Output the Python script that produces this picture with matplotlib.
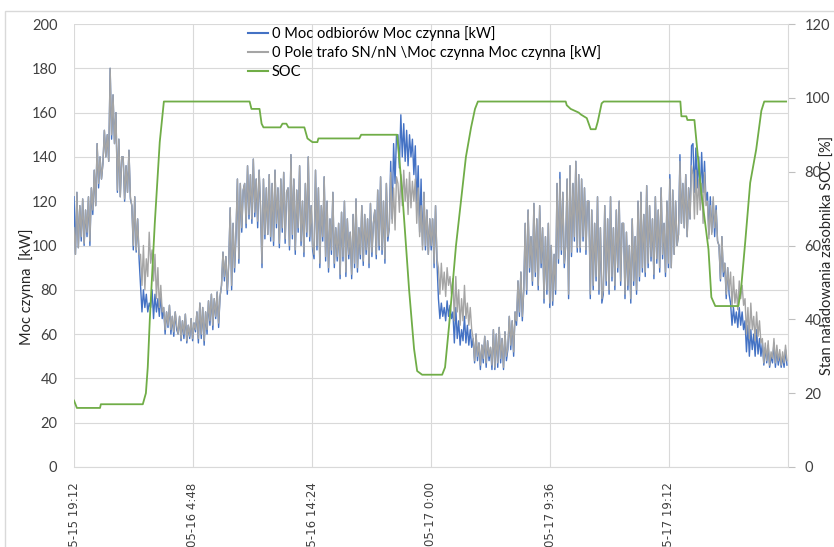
import matplotlib
matplotlib.use("Agg")
import matplotlib.pyplot as plt
import matplotlib.patches as mpatches
import pandas as pd

# ---------------- data ----------------
start_time = "2021-05-15 19:12"
sample_minutes = 7

trafo_kw = [  # 0 Pole trafo SN/nN \Moc czynna Moc czynna [kW]  (grey)
    108, 96, 124, 99,
    118, 104, 121, 101, 116, 106, 122, 102,
    126, 116, 134, 118,
    146, 128, 140, 130,
    137, 152, 140, 150, 138, 180,
    150, 168, 146, 160,
    125, 148, 122, 140,
    140, 121, 136, 124, 143, 122,
    118, 100, 122, 98, 112, 96,
    96, 82, 100, 80, 94, 86,
    106, 92,
    98, 84, 96, 76, 90, 72, 82, 70,
    72, 62, 70, 64, 73, 62, 68, 61, 70, 64,
    60, 68, 58, 66, 60, 69, 57, 64, 59, 67, 58, 65,
    62, 70,
    58, 74, 60, 72, 57, 70, 62, 75,
    66, 78, 64, 76, 68, 79, 65, 77,
    82, 97, 86, 95, 80, 92,
    117, 82, 110, 90,
    106, 130, 94, 128, 108, 125,
    128, 110, 136, 114, 132, 112, 139, 115, 130, 111, 134, 118,
    92, 130, 105, 126,
    105, 132, 104, 128, 102, 134, 110, 126, 101, 130, 108, 133, 103, 124,
    126, 100, 141, 105, 130, 98, 125, 108, 136, 102, 120, 97, 128, 106, 140, 104, 118, 100,
    96, 134,
    100, 126, 92, 118, 104, 131, 95, 120, 90, 112, 98, 124, 92, 108,
    95, 110, 87, 115, 95, 120, 88, 112, 96, 106, 87, 114, 92, 121, 90, 108,
    96, 118, 93, 114, 98, 112, 92, 119, 97, 110,
    116, 96, 125, 100, 131, 98, 120, 94, 128, 104,
    108, 133, 110, 126, 107, 131,
    128, 115, 132, 118, 134, 120, 130, 114, 133, 117, 129, 120,
    130, 110, 126, 104, 118, 98, 124, 100, 116, 96, 112, 100,
    112, 92, 118, 94,
    90, 78, 92, 80, 88, 77, 90, 82, 86, 78,
    85, 66, 86, 70, 80, 64, 76, 66, 82, 67, 74, 64, 72, 62,
    58, 48, 60, 50, 56, 46, 55, 49, 59, 47, 57, 50, 54, 46,
    62, 45, 60, 47, 63, 49, 58, 45, 61, 50,
    54, 68, 55, 66, 52, 70,
    66, 84, 70, 88, 68, 80,
    110, 80, 116, 90, 104, 84, 119, 88, 112, 82, 118, 92,
    108, 76, 104, 80, 110, 74,
    100, 75, 96, 80,
    128, 94, 130, 98, 124, 92,
    100, 130, 78, 136, 97, 128, 104, 138, 99, 132,
    99, 130, 104, 126, 98, 120,
    120, 78, 116, 82, 110, 86, 122, 80, 108, 76,
    80, 118, 84, 112, 80, 122, 86, 108, 82, 116, 90, 120, 84, 110,
    110, 78, 106, 82, 100, 76, 112, 84, 104, 80,
    120, 86, 124, 90, 114, 88, 127, 92, 118, 95, 112, 87, 122, 94, 116, 90, 126, 96, 110, 88, 120, 92,
    130, 90, 125, 96, 120, 100,
    105, 138, 110, 128, 108, 132, 104, 126, 112, 136,
    132, 112, 134, 114, 130, 116, 128, 110, 133, 118,
    120, 103, 118, 105, 122, 108, 116, 102,
    100, 85, 104, 88, 92, 78, 90, 80,
    88, 72, 86, 74, 80, 71, 84, 76, 82, 73,
    76, 60, 72, 58, 74, 62, 68, 57, 70, 59, 66, 56,
    58, 47, 56, 48, 57, 46, 52, 49, 58, 47, 55, 48, 53, 46,
    52, 47, 55, 48,
]

odbiory_kw = [  # 0 Moc odbiorow Moc czynna [kW]  (blue)
    122, 96, 124, 99,
    118, 102, 121, 100, 116, 104, 122, 100,
    126, 114, 134, 118,
    146, 126, 140, 130,
    137, 152, 140, 150, 138, 180,
    148, 168, 146, 160,
    124, 148, 122, 140,
    140, 120, 136, 124, 143, 121,
    118, 98, 122, 97, 112, 94,
    82, 70, 80, 72, 78, 70,
    74, 72,
    80, 67, 78, 70, 76, 68, 78, 67,
    72, 60, 70, 63, 73, 60, 68, 59, 70, 62,
    60, 68, 57, 66, 58, 69, 56, 64, 58, 67, 57, 65,
    61, 70,
    56, 74, 58, 72, 55, 70, 60, 75,
    64, 78, 62, 76, 67, 79, 63, 77,
    82, 97, 84, 95, 78, 92,
    117, 80, 110, 88,
    104, 130, 92, 128, 106, 125,
    128, 108, 136, 112, 132, 110, 139, 113, 130, 108, 134, 116,
    90, 130, 103, 126,
    105, 132, 102, 128, 100, 134, 108, 126, 99, 130, 106, 133, 101, 124,
    126, 98, 141, 103, 130, 96, 125, 106, 136, 100, 120, 95, 128, 104, 140, 102, 118, 98,
    94, 134,
    98, 126, 90, 118, 102, 131, 93, 120, 88, 112, 96, 124, 90, 108,
    93, 110, 85, 115, 93, 120, 86, 112, 94, 106, 85, 114, 90, 121, 88, 108,
    94, 118, 91, 114, 96, 112, 90, 119, 95, 110,
    116, 94, 125, 98, 131, 96, 120, 92, 128, 102,
    108, 138, 112, 146, 128, 150,
    150, 135, 159, 140, 155, 138, 152, 136, 150, 140, 148, 132,
    145, 118, 136, 106, 130, 100, 124, 98, 116, 96, 112, 98,
    112, 90, 118, 92,
    76, 67, 74, 68, 72, 66, 75, 68, 73, 67,
    70, 56, 72, 58, 66, 55, 62, 57, 68, 56, 64, 55, 62, 54,
    58, 47, 60, 48, 56, 44, 55, 47, 59, 45, 57, 48, 54, 44,
    62, 44, 60, 45, 63, 47, 58, 44, 61, 48,
    53, 68, 53, 66, 50, 70,
    64, 84, 68, 88, 66, 80,
    110, 78, 116, 88, 104, 82, 119, 86, 112, 80, 118, 90,
    108, 74, 104, 78, 110, 72,
    100, 73, 96, 78,
    128, 92, 133, 96, 124, 90,
    100, 130, 76, 136, 95, 128, 102, 138, 97, 132,
    97, 130, 102, 126, 96, 120,
    120, 76, 116, 80, 110, 84, 122, 78, 108, 74,
    78, 118, 82, 112, 78, 122, 84, 108, 80, 116, 88, 120, 82, 110,
    110, 76, 106, 80, 100, 74, 112, 82, 104, 78,
    120, 84, 124, 88, 114, 86, 127, 90, 118, 93, 112, 85, 122, 92, 116, 88, 126, 94, 110, 86, 120, 90,
    132, 90, 125, 96, 120, 100,
    105, 141, 110, 128, 108, 132, 104, 126, 112, 145,
    146, 124, 144, 126, 140, 122, 142, 124, 138, 120,
    124, 105, 122, 106, 120, 104, 118, 102,
    100, 84, 104, 86, 92, 76, 90, 78,
    74, 64, 72, 65, 70, 63, 72, 64, 70, 62,
    66, 52, 64, 50, 62, 53, 60, 50, 62, 51, 58, 50,
    56, 46, 54, 47, 55, 45, 50, 47, 56, 45, 53, 46, 51, 45,
    50, 45, 53, 46,
]

soc_time = [
    "05-15 19:12", "05-15 19:26", "05-15 21:18", "05-15 21:22", "05-16 00:45",
    "05-16 01:00", "05-16 01:09", "05-16 01:19", "05-16 01:43", "05-16 02:07",
    "05-16 02:27", "05-16 09:22", "05-16 09:31", "05-16 10:10", "05-16 10:20",
    "05-16 10:29", "05-16 11:51", "05-16 12:01", "05-16 12:20", "05-16 12:30",
    "05-16 13:47", "05-16 14:02", "05-16 14:26", "05-16 14:50", "05-16 14:55",
    "05-16 15:05", "05-16 18:13", "05-16 18:22", "05-16 21:16", "05-16 21:40",
    "05-16 22:14", "05-16 22:38", "05-16 22:53", "05-16 23:17", "05-17 00:54",
    "05-17 01:08", "05-17 01:27", "05-17 02:01", "05-17 02:25", "05-17 02:49",
    "05-17 03:14", "05-17 03:33", "05-17 03:47", "05-17 10:52", "05-17 10:57",
    "05-17 11:16", "05-17 11:55", "05-17 12:05", "05-17 12:34", "05-17 12:53",
    "05-17 13:17", "05-17 13:27", "05-17 13:46", "05-17 13:56", "05-17 20:07",
    "05-17 20:12", "05-17 20:36", "05-17 20:41", "05-17 21:15", "05-17 21:49",
    "05-17 22:23", "05-17 22:37", "05-17 22:56", "05-18 00:48", "05-18 01:02",
    "05-18 01:21", "05-18 01:45", "05-18 02:14", "05-18 02:39", "05-18 02:53",
    "05-18 04:39",
]
soc_pct = [
    18, 16, 16, 17, 17,
    20, 27, 40, 66, 88,
    99, 99, 97, 97, 93,
    92, 92, 93, 93, 92,
    92, 89, 88, 88, 89,
    89, 89, 90, 90, 75,
    48, 32, 26, 25, 25,
    27, 38, 60, 72, 84,
    92, 97, 99, 99, 98,
    97, 96, 95.5, 94.5, 91.5,
    91.5, 93.5, 98.5, 99, 99,
    95, 95, 94, 94, 74,
    59, 46, 43.6, 43.6, 49,
    61, 77, 86, 96.5, 99,
    99,
]

tick_labels = ["05-15 19:12", "05-16 4:48", "05-16 14:24",
               "05-17 0:00", "05-17 9:36", "05-17 19:12"]
left_ticks = [0, 20, 40, 60, 80, 100, 120, 140, 160, 180, 200]
right_ticks = [0, 20, 40, 60, 80, 100, 120]

legend_labels = ["0 Moc odbiorów Moc czynna [kW]",
                 "0 Pole trafo SN/nN \\Moc czynna Moc czynna [kW]",
                 "SOC"]

# ---------------- figure ----------------
W, H = 834, 547
fig = plt.figure(figsize=(W / 100, H / 100), dpi=100)
fig.patch.set_facecolor("white")

# chart-area border (Excel style)
fig.patches.append(mpatches.Rectangle((5 / W, -0.1), 1.2, 1.1 - 11 / H,
                                      transform=fig.transFigure, fill=False,
                                      edgecolor="#d9d9d9", linewidth=1.0))

L, R, B, T = 74, 788, 467, 24
ax = fig.add_axes([L / W, 1 - B / H, (R - L) / W, (B - T) / H])
ax2 = ax.twinx()

t0 = pd.Timestamp(start_time)
t_load = pd.date_range(t0, periods=len(trafo_kw), freq=f"{sample_minutes}min")
t_load_b = pd.date_range(t0, periods=len(odbiory_kw), freq=f"{sample_minutes}min")
t_soc = pd.to_datetime(["2021-" + s for s in soc_time])

blue = "#4472C4"
grey = "#A5A5A5"
green = "#70AD47"

l1, = ax.plot(t_load_b, odbiory_kw, color=blue, lw=1.0, zorder=3)
l2, = ax.plot(t_load, trafo_kw, color=grey, lw=1.0, zorder=4)
l3, = ax2.plot(t_soc, soc_pct, color=green, lw=1.3, zorder=5)

span = pd.Timedelta(minutes=576)
tick_pos = [t0 + k * span for k in range(len(tick_labels))]
ax.set_xlim(t0, t0 + 6 * span)
ax.set_xticks(tick_pos)
ax.set_xticklabels(tick_labels, rotation=90, ha="center", va="top",
                   fontsize=8.5, family="DejaVu Sans", color="#404040")
ax.tick_params(axis="x", length=0, pad=11)

ax.set_ylim(0, 200)
ax.set_yticks(left_ticks)
ax.tick_params(axis="y", length=0, pad=12, labelsize=10.5, labelcolor="#404040")
for lab in ax.get_yticklabels():
    lab.set_family("Lato")

ax2.set_ylim(0, 120)
ax2.set_yticks(right_ticks)
ax2.tick_params(axis="y", length=5, width=0.8, color="#bfbfbf", pad=7,
                labelsize=10.5, labelcolor="#404040")
for lab in ax2.get_yticklabels():
    lab.set_family("Lato")

ax.grid(True, color="#d9d9d9", lw=0.8)
ax.set_axisbelow(True)
for a in (ax, ax2):
    for s in a.spines.values():
        s.set_visible(False)
ax2.spines["right"].set_visible(True)
ax2.spines["right"].set_color("#d9d9d9")
ax2.spines["bottom"].set_visible(True)
ax2.spines["bottom"].set_color("#d9d9d9")

ax.set_ylabel("Moc czynna  [kW]", fontsize=10.5, family="Lato", color="#262626")
ax.yaxis.set_label_coords((34 - L) / (R - L), (B - 287) / (B - T))
ax2.set_ylabel("Stan naładowania zasobnika SOC [%]", fontsize=10.5, family="Lato",
               color="#262626", rotation=90)
ax2.yaxis.set_label_coords((821 - L) / (R - L), (B - 255) / (B - T))

fig.legend([l1, l2, l3], legend_labels, loc="upper left",
           bbox_to_anchor=(248 / W, 1 - 26 / H), frameon=False,
           prop={"family": "Lato", "size": 10.5}, handlelength=1.4,
           handletextpad=0.25, labelspacing=0.3, borderaxespad=0,
           borderpad=0)
for h in fig.legends[0].legend_handles:
    h.set_linewidth(1.5)

fig.savefig("out.png", dpi=100, facecolor="white")
